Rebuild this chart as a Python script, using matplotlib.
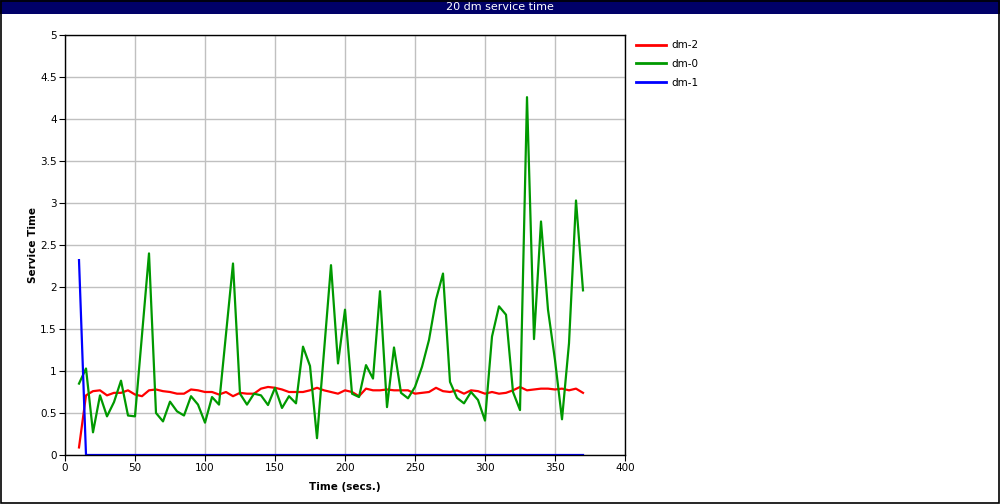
import numpy as np
import matplotlib
matplotlib.use("Agg")
import matplotlib.pyplot as plt
from matplotlib.patches import Rectangle

# sample times (secs.)
times = np.arange(10, 375, 5)

dm2 = [0.09, 0.71, 0.76, 0.77, 0.71, 0.74, 0.74, 0.77, 0.72, 0.70,
       0.77, 0.78, 0.76, 0.75, 0.73, 0.73, 0.78, 0.77, 0.75, 0.75,
       0.72, 0.75, 0.70, 0.74, 0.73, 0.73, 0.79, 0.81, 0.80, 0.78,
       0.75, 0.75, 0.75, 0.77, 0.80, 0.77, 0.75, 0.73, 0.77, 0.75,
       0.70, 0.79, 0.77, 0.77, 0.78, 0.77, 0.77, 0.77, 0.73, 0.74,
       0.75, 0.80, 0.76, 0.75, 0.77, 0.73, 0.77, 0.76, 0.73, 0.75,
       0.73, 0.74, 0.77, 0.81, 0.77, 0.78, 0.79, 0.79, 0.78, 0.79,
       0.77, 0.79, 0.74]

dm0 = [0.85, 1.03, 0.27, 0.71, 0.46, 0.63, 0.885, 0.47, 0.46, 1.43,
       2.40, 0.50, 0.40, 0.635, 0.52, 0.47, 0.70, 0.60, 0.385, 0.69,
       0.60, 1.44, 2.28, 0.73, 0.60, 0.73, 0.71, 0.595, 0.80, 0.56,
       0.70, 0.615, 1.29, 1.06, 0.20, 1.23, 2.26, 1.09, 1.73, 0.73,
       0.69, 1.07, 0.91, 1.95, 0.57, 1.28, 0.74, 0.675, 0.81, 1.05,
       1.37, 1.85, 2.16, 0.87, 0.68, 0.615, 0.75, 0.655, 0.41, 1.41,
       1.77, 1.67, 0.75, 0.535, 4.26, 1.38, 2.78, 1.73, 1.13, 0.425,
       1.33, 3.03, 1.96]

dm1 = [2.32] + [0.0] * 72

fig = plt.figure(figsize=(10, 5.04), dpi=100)
fig.patch.set_facecolor("white")

# title bar and outer border
fig.patches.append(Rectangle((0, 490 / 504), 1, 14 / 504, transform=fig.transFigure,
                             facecolor="#000068", edgecolor="none", zorder=0))
fig.patches.append(Rectangle((0.0005, 0.001), 0.998, 0.997, transform=fig.transFigure,
                             facecolor="none", edgecolor="black", lw=1.2, zorder=5))
fig.text(0.5, 497 / 504, "20 dm service time", color="white", ha="center", va="center",
         fontsize=8)

ax = fig.add_axes([0.065, 49 / 504, 0.56, 420 / 504])
ax.plot(times, dm2, color="#ff0000", lw=1.6, label="dm-2")
ax.plot(times, dm0, color="#009900", lw=1.6, label="dm-0")
ax.plot(times, dm1, color="#0000ff", lw=1.6, label="dm-1")

ax.set_xlim(0, 400)
ax.set_ylim(0, 5)
ax.set_xticks(np.arange(0, 401, 50))
ax.set_yticks(np.arange(0, 5.01, 0.5))
ax.set_yticklabels(["0", "0.5", "1", "1.5", "2", "2.5", "3", "3.5", "4", "4.5", "5"])
ax.grid(True, color="#c0c0c0", lw=1)
ax.set_axisbelow(True)
ax.tick_params(direction="out", length=4, labelsize=7.5, pad=2)
for s in ax.spines.values():
    s.set_linewidth(1)
ax.set_xlabel("Time (secs.)", fontsize=7.5, fontweight="bold", labelpad=6)
ax.set_ylabel("Service Time", fontsize=7.5, fontweight="bold", labelpad=1.5)

leg = ax.legend(loc="upper left", bbox_to_anchor=(1.01, 1.0), frameon=False, fontsize=7.5,
                handlelength=2.9, handletextpad=0.5, labelspacing=0.85, borderaxespad=0.1)
for line in leg.get_lines():
    line.set_linewidth(2)

fig.savefig("out.png", dpi=100)
